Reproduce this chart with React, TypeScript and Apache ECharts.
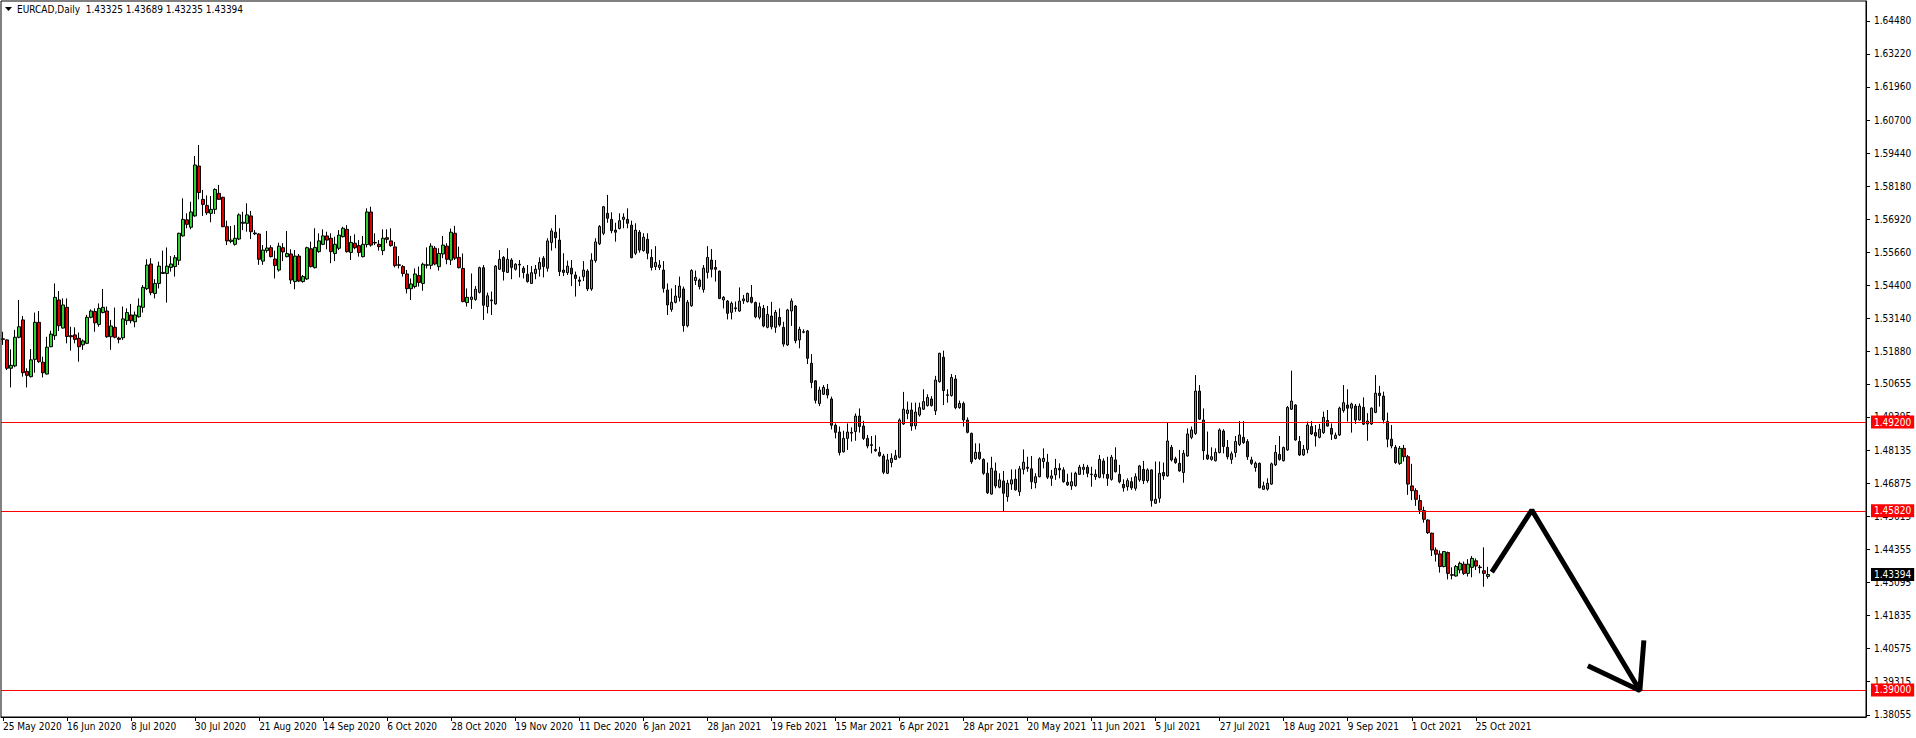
import React, { useEffect, useRef } from "react";
import * as echarts from "echarts";

// ---- Data (EURCAD, Daily) ----
const symbolTitle = "EURCAD,Daily";
const startDate = "2020-05-25";
const holidays = ["2020-12-25", "2021-01-01"];
const totalSlots = 466; // bars + empty chart-shift area on the right

const opens = [
  1.5237,1.5233,1.5125,1.5134,1.5243,1.5309,1.5113,1.5093,1.5159,1.5300,
  1.5148,1.5103,1.5207,1.5249,1.5385,1.5278,1.5357,1.5249,1.5252,1.5239,
  1.5214,1.5220,1.5319,1.5341,1.5292,1.5337,1.5343,1.5245,1.5281,1.5240,
  1.5241,1.5306,1.5328,1.5302,1.5321,1.5357,1.5428,1.5522,1.5410,1.5448,
  1.5486,1.5486,1.5509,1.5512,1.5536,1.5629,1.5690,1.5662,1.5705,1.5895,
  1.5768,1.5745,1.5715,1.5730,1.5791,1.5776,1.5664,1.5608,1.5597,1.5617,
  1.5677,1.5677,1.5705,1.5640,1.5636,1.5533,1.5573,1.5584,1.5541,1.5499,
  1.5584,1.5550,1.5560,1.5455,1.5552,1.5455,1.5465,1.5580,1.5508,1.5569,
  1.5597,1.5629,1.5620,1.5562,1.5582,1.5626,1.5654,1.5566,1.5601,1.5592,
  1.5550,1.5596,1.5720,1.5604,1.5597,1.5573,1.5622,1.5610,1.5587,1.5519,
  1.5512,1.5484,1.5428,1.5436,1.5478,1.5448,1.5519,1.5517,1.5582,1.5512,
  1.5560,1.5590,1.5537,1.5639,1.5547,1.5505,1.5375,1.5387,1.5387,1.5414,
  1.5508,1.5360,1.5385,1.5370,1.5502,1.5547,1.5490,1.5537,1.5502,1.5521,
  1.5506,1.5483,1.5448,1.5486,1.5502,1.5544,1.5506,1.5604,1.5643,1.5613,
  1.5499,1.5489,1.5506,1.5480,1.5461,1.5474,1.5495,1.5427,1.5535,1.5599,
  1.5639,1.5715,1.5692,1.5651,1.5657,1.5692,1.5692,1.5670,1.5563,1.5643,
  1.5573,1.5616,1.5547,1.5512,1.5509,1.5499,1.5423,1.5349,1.5376,1.5395,
  1.5427,1.5287,1.5363,1.5459,1.5461,1.5425,1.5490,1.5537,1.5509,1.5495,
  1.5385,1.5381,1.5338,1.5355,1.5343,1.5382,1.5379,1.5395,1.5375,1.5319,
  1.5353,1.5281,1.5324,1.5281,1.5319,1.5281,1.5214,1.5343,1.5362,1.5233,
  1.5264,1.5267,1.5144,1.5077,1.4991,1.5026,1.5045,1.5008,1.4908,1.4882,
  1.4807,1.4858,1.4881,1.4884,1.4943,1.4905,1.4858,1.4834,1.4816,1.4805,
  1.4791,1.4725,1.4766,1.4778,1.4786,1.4913,1.4953,1.4966,1.4906,1.4947,
  1.4969,1.4983,1.5008,1.4963,1.5074,1.5167,1.5024,1.5021,1.5084,1.4975,
  1.4991,1.4928,1.4877,1.4781,1.4805,1.4778,1.4725,1.4646,1.4734,1.4672,
  1.4696,1.4636,1.4684,1.4703,1.4655,1.4740,1.4748,1.4742,1.4689,1.4712,
  1.4770,1.4767,1.4706,1.4719,1.4744,1.4738,1.4691,1.4677,1.4678,1.4721,
  1.4740,1.4748,1.4722,1.4712,1.4710,1.4772,1.4721,1.4702,1.4776,1.4721,
  1.4683,1.4674,1.4693,1.4668,1.4700,1.4740,1.4697,1.4738,1.4611,1.4630,
  1.4728,1.4715,1.4824,1.4780,1.4763,1.4728,1.4791,1.4862,1.4877,1.5038,
  1.4928,1.4795,1.4778,1.4773,1.4804,1.4886,1.4824,1.4778,1.4804,1.4835,
  1.4862,1.4846,1.4776,1.4747,1.4763,1.4664,1.4665,1.4684,1.4757,1.4797,
  1.4773,1.4814,1.4969,1.4985,1.4846,1.4795,1.4816,1.4903,1.4880,1.4862,
  1.4880,1.4926,1.4896,1.4858,1.4871,1.4964,1.4985,1.4973,1.4981,1.4928,
  1.4976,1.4913,1.4913,1.4957,1.5030,1.5019,1.4922,1.4855,1.4824,1.4763,
  1.4820,1.4788,1.4677,1.4659,1.4621,1.4583,1.4547,1.4497,1.4433,1.4418,
  1.4370,1.4423,1.4339,1.4334,1.4357,1.4379,1.4344,1.4367,1.4392,1.4368,
  1.4354,1.43325
];

const highs = [
  1.5264,1.5235,1.5197,1.5271,1.5385,1.5324,1.5125,1.5198,1.5337,1.5343,
  1.5169,1.5245,1.5268,1.5448,1.5419,1.5391,1.5391,1.5283,1.5281,1.5261,
  1.5235,1.5328,1.5349,1.5353,1.5372,1.5427,1.5360,1.5309,1.5356,1.5245,
  1.5360,1.5353,1.5370,1.5341,1.5391,1.5442,1.5540,1.5544,1.5464,1.5531,
  1.5573,1.5585,1.5552,1.5556,1.5641,1.5772,1.5715,1.5759,1.5933,1.5975,
  1.5804,1.5783,1.5781,1.5810,1.5823,1.5778,1.5687,1.5667,1.5670,1.5715,
  1.5721,1.5753,1.5724,1.5651,1.5639,1.5594,1.5648,1.5594,1.5573,1.5603,
  1.5601,1.5648,1.5578,1.5575,1.5560,1.5480,1.5588,1.5607,1.5658,1.5639,
  1.5654,1.5645,1.5639,1.5626,1.5651,1.5664,1.5670,1.5629,1.5635,1.5613,
  1.5629,1.5734,1.5740,1.5639,1.5613,1.5654,1.5654,1.5658,1.5606,1.5552,
  1.5518,1.5499,1.5467,1.5505,1.5512,1.5527,1.5585,1.5601,1.5590,1.5582,
  1.5629,1.5601,1.5657,1.5667,1.5588,1.5562,1.5429,1.5486,1.5438,1.5512,
  1.5518,1.5413,1.5417,1.5518,1.5575,1.5552,1.5582,1.5544,1.5525,1.5537,
  1.5514,1.5518,1.5514,1.5518,1.5547,1.5552,1.5620,1.5658,1.5709,1.5658,
  1.5563,1.5535,1.5537,1.5493,1.5474,1.5533,1.5502,1.5563,1.5620,1.5670,
  1.5743,1.5785,1.5719,1.5679,1.5715,1.5715,1.5734,1.5687,1.5677,1.5651,
  1.5639,1.5639,1.5578,1.5590,1.5537,1.5533,1.5448,1.5429,1.5442,1.5474,
  1.5436,1.5385,1.5502,1.5497,1.5467,1.5518,1.5590,1.5579,1.5537,1.5497,
  1.5400,1.5385,1.5379,1.5379,1.5433,1.5404,1.5413,1.5442,1.5379,1.5375,
  1.5366,1.5362,1.5378,1.5347,1.5353,1.5302,1.5351,1.5391,1.5366,1.5283,
  1.5273,1.5271,1.5179,1.5080,1.5055,1.5061,1.5065,1.5017,1.4915,1.4903,
  1.4887,1.4915,1.4900,1.4953,1.4972,1.4925,1.4871,1.4867,1.4870,1.4826,
  1.4799,1.4799,1.4801,1.4814,1.4934,1.5035,1.4998,1.4994,1.4994,1.4994,
  1.5045,1.5026,1.5019,1.5096,1.5184,1.5192,1.5045,1.5103,1.5099,1.5002,
  1.4998,1.4938,1.4880,1.4839,1.4839,1.4782,1.4766,1.4788,1.4766,1.4725,
  1.4734,1.4700,1.4740,1.4740,1.4753,1.4816,1.4788,1.4791,1.4725,1.4786,
  1.4820,1.4799,1.4738,1.4780,1.4763,1.4748,1.4723,1.4728,1.4731,1.4757,
  1.4761,1.4757,1.4750,1.4740,1.4795,1.4782,1.4788,1.4795,1.4824,1.4757,
  1.4702,1.4706,1.4710,1.4725,1.4757,1.4772,1.4744,1.4740,1.4770,1.4770,
  1.4766,1.4919,1.4833,1.4788,1.4814,1.4814,1.4896,1.4903,1.5099,1.5061,
  1.4972,1.4884,1.4824,1.4820,1.4896,1.4893,1.4852,1.4808,1.4867,1.4924,
  1.4924,1.4855,1.4788,1.4770,1.4766,1.4693,1.4706,1.4766,1.4833,1.4867,
  1.4827,1.4981,1.5116,1.4988,1.4867,1.4833,1.4922,1.4924,1.4909,1.4913,
  1.4960,1.4966,1.4915,1.4880,1.4979,1.5061,1.5045,1.4994,1.4989,1.4991,
  1.5014,1.4954,1.4976,1.5099,1.5058,1.5036,1.4956,1.4909,1.4833,1.4829,
  1.4833,1.4795,1.4761,1.4668,1.4643,1.4598,1.4550,1.4499,1.4443,1.4431,
  1.4429,1.4427,1.4367,1.4376,1.4389,1.4389,1.4398,1.4410,1.4401,1.4376,
  1.4443,1.43689
];

const lows = [
  1.5214,1.5118,1.5052,1.5129,1.5239,1.5093,1.5052,1.5090,1.5108,1.5146,
  1.5090,1.5101,1.5205,1.5233,1.5267,1.5276,1.5220,1.5192,1.5220,1.5150,
  1.5195,1.5217,1.5315,1.5264,1.5283,1.5334,1.5241,1.5195,1.5239,1.5220,
  1.5233,1.5290,1.5296,1.5281,1.5318,1.5337,1.5423,1.5403,1.5391,1.5429,
  1.5484,1.5375,1.5493,1.5474,1.5518,1.5626,1.5658,1.5654,1.5702,1.5768,
  1.5705,1.5709,1.5681,1.5712,1.5766,1.5662,1.5594,1.5601,1.5592,1.5613,
  1.5651,1.5645,1.5617,1.5632,1.5519,1.5519,1.5565,1.5547,1.5467,1.5493,
  1.5533,1.5547,1.5446,1.5426,1.5453,1.5451,1.5461,1.5509,1.5505,1.5565,
  1.5594,1.5578,1.5525,1.5533,1.5575,1.5623,1.5565,1.5537,1.5578,1.5550,
  1.5547,1.5585,1.5588,1.5594,1.5573,1.5556,1.5601,1.5588,1.5509,1.5505,
  1.5474,1.5410,1.5385,1.5429,1.5436,1.5420,1.5505,1.5502,1.5517,1.5497,
  1.5544,1.5521,1.5518,1.5537,1.5505,1.5376,1.5360,1.5351,1.5382,1.5410,
  1.5309,1.5334,1.5328,1.5367,1.5499,1.5459,1.5489,1.5464,1.5497,1.5471,
  1.5467,1.5451,1.5446,1.5464,1.5474,1.5471,1.5493,1.5573,1.5582,1.5476,
  1.5476,1.5480,1.5438,1.5398,1.5438,1.5457,1.5419,1.5420,1.5527,1.5594,
  1.5632,1.5679,1.5639,1.5607,1.5654,1.5658,1.5658,1.5544,1.5556,1.5565,
  1.5569,1.5540,1.5497,1.5499,1.5499,1.5413,1.5328,1.5340,1.5372,1.5379,
  1.5264,1.5281,1.5359,1.5442,1.5425,1.5413,1.5467,1.5471,1.5455,1.5388,
  1.5353,1.5311,1.5311,1.5340,1.5340,1.5370,1.5375,1.5372,1.5315,1.5311,
  1.5281,1.5277,1.5273,1.5260,1.5283,1.5207,1.5210,1.5286,1.5220,1.5201,
  1.5258,1.5141,1.5049,1.4991,1.4981,1.5023,1.5010,1.4892,1.4858,1.4793,
  1.4804,1.4814,1.4846,1.4849,1.4880,1.4852,1.4820,1.4801,1.4807,1.4788,
  1.4722,1.4722,1.4748,1.4776,1.4782,1.4909,1.4931,1.4887,1.4892,1.4941,
  1.4966,1.4979,1.4979,1.4947,1.5070,1.4985,1.4994,1.5017,1.4969,1.4971,
  1.4903,1.4877,1.4761,1.4776,1.4776,1.4719,1.4646,1.4644,1.4668,1.4668,
  1.4579,1.4617,1.4662,1.4659,1.4639,1.4721,1.4731,1.4665,1.4668,1.4710,
  1.4744,1.4703,1.4677,1.4700,1.4706,1.4689,1.4677,1.4662,1.4674,1.4719,
  1.4719,1.4710,1.4674,1.4700,1.4706,1.4706,1.4677,1.4697,1.4728,1.4687,
  1.4655,1.4659,1.4662,1.4659,1.4693,1.4684,1.4689,1.4598,1.4608,1.4613,
  1.4700,1.4712,1.4770,1.4761,1.4731,1.4689,1.4788,1.4855,1.4871,1.4928,
  1.4776,1.4776,1.4773,1.4770,1.4801,1.4801,1.4778,1.4761,1.4786,1.4829,
  1.4837,1.4776,1.4757,1.4731,1.4668,1.4662,1.4659,1.4681,1.4753,1.4773,
  1.4770,1.4811,1.4966,1.4849,1.4791,1.4791,1.4801,1.4871,1.4827,1.4858,
  1.4875,1.4903,1.4852,1.4855,1.4867,1.4956,1.4922,1.4880,1.4913,1.4926,
  1.4909,1.4849,1.4909,1.4954,1.4979,1.4915,1.4824,1.4820,1.4761,1.4757,
  1.4770,1.4643,1.4623,1.4601,1.4570,1.4537,1.4494,1.4410,1.4389,1.4347,
  1.4367,1.4321,1.4321,1.4332,1.4344,1.4338,1.4332,1.4329,1.4357,1.4344,
  1.4293,1.43235
];

const closes = [
  1.5235,1.5125,1.5136,1.5243,1.5283,1.5108,1.5098,1.5157,1.5300,1.5150,
  1.5108,1.5205,1.5255,1.5395,1.5287,1.5366,1.5246,1.5245,1.5235,1.5207,
  1.5229,1.5319,1.5343,1.5298,1.5353,1.5357,1.5245,1.5286,1.5243,1.5235,
  1.5313,1.5337,1.5306,1.5328,1.5362,1.5433,1.5518,1.5413,1.5448,1.5514,
  1.5490,1.5514,1.5522,1.5546,1.5639,1.5692,1.5673,1.5720,1.5899,1.5794,
  1.5749,1.5717,1.5730,1.5806,1.5768,1.5664,1.5610,1.5613,1.5620,1.5709,
  1.5681,1.5709,1.5645,1.5637,1.5540,1.5575,1.5583,1.5550,1.5516,1.5590,
  1.5568,1.5562,1.5461,1.5552,1.5457,1.5474,1.5584,1.5512,1.5585,1.5610,
  1.5629,1.5613,1.5569,1.5597,1.5632,1.5658,1.5569,1.5604,1.5584,1.5566,
  1.5597,1.5720,1.5594,1.5602,1.5588,1.5620,1.5616,1.5592,1.5516,1.5517,
  1.5486,1.5428,1.5446,1.5484,1.5452,1.5521,1.5517,1.5590,1.5522,1.5562,
  1.5594,1.5540,1.5643,1.5544,1.5508,1.5379,1.5395,1.5396,1.5426,1.5508,
  1.5365,1.5401,1.5382,1.5514,1.5540,1.5493,1.5540,1.5509,1.5521,1.5518,
  1.5489,1.5455,1.5489,1.5502,1.5528,1.5512,1.5610,1.5648,1.5622,1.5493,
  1.5490,1.5514,1.5484,1.5467,1.5456,1.5499,1.5427,1.5537,1.5606,1.5665,
  1.5740,1.5696,1.5649,1.5643,1.5687,1.5700,1.5677,1.5546,1.5651,1.5575,
  1.5624,1.5563,1.5509,1.5528,1.5518,1.5429,1.5366,1.5376,1.5400,1.5438,
  1.5287,1.5376,1.5497,1.5471,1.5436,1.5506,1.5547,1.5502,1.5502,1.5391,
  1.5395,1.5334,1.5372,1.5352,1.5381,1.5389,1.5410,1.5376,1.5321,1.5359,
  1.5286,1.5330,1.5283,1.5338,1.5290,1.5217,1.5347,1.5381,1.5230,1.5273,
  1.5262,1.5163,1.5071,1.5003,1.5042,1.5052,1.5023,1.4908,1.4881,1.4804,
  1.4858,1.4882,1.4878,1.4943,1.4903,1.4858,1.4829,1.4831,1.4811,1.4792,
  1.4729,1.4776,1.4782,1.4792,1.4928,1.4969,1.4966,1.4905,1.4958,1.4975,
  1.4998,1.5014,1.4983,1.5080,1.5182,1.5040,1.5022,1.5090,1.4975,1.4991,
  1.4928,1.4881,1.4769,1.4805,1.4781,1.4725,1.4651,1.4744,1.4677,1.4700,
  1.4649,1.4687,1.4700,1.4662,1.4742,1.4767,1.4744,1.4693,1.4712,1.4780,
  1.4782,1.4710,1.4715,1.4744,1.4738,1.4693,1.4681,1.4693,1.4725,1.4748,
  1.4748,1.4725,1.4720,1.4721,1.4778,1.4723,1.4706,1.4786,1.4731,1.4693,
  1.4670,1.4697,1.4670,1.4712,1.4753,1.4697,1.4738,1.4621,1.4626,1.4725,
  1.4715,1.4848,1.4776,1.4766,1.4734,1.4801,1.4875,1.4890,1.5038,1.4931,
  1.4811,1.4780,1.4788,1.4805,1.4890,1.4827,1.4788,1.4799,1.4846,1.4871,
  1.4842,1.4788,1.4763,1.4763,1.4670,1.4677,1.4687,1.4761,1.4805,1.4778,
  1.4823,1.4976,1.5000,1.4852,1.4795,1.4816,1.4909,1.4875,1.4867,1.4893,
  1.4938,1.4905,1.4874,1.4870,1.4973,1.4994,1.4973,1.4989,1.4928,1.4981,
  1.4912,1.4924,1.4973,1.5030,1.5021,1.4928,1.4855,1.4829,1.4766,1.4820,
  1.4788,1.4684,1.4659,1.4626,1.4585,1.4550,1.4499,1.4433,1.4417,1.4370,
  1.4427,1.4344,1.4337,1.4370,1.4382,1.4344,1.4379,1.4401,1.4372,1.4366,
  1.4344,1.43394
];

const priceTicks = [
  1.6448, 1.6322, 1.6196, 1.607, 1.5944, 1.5818, 1.5692, 1.5566, 1.544, 1.5314, 1.5188,
  1.50655, 1.49395, 1.48135, 1.46875, 1.45615, 1.44355, 1.43095, 1.41835, 1.40575, 1.39315, 1.38055
];
const levelLines = [1.492, 1.4582, 1.39];
const lastPrice = 1.43394;
const arrowPath = [[372, 1.4349], [382, 1.4585], [409, 1.3898]];
const arrowHead = [[396, 1.3992], [409, 1.3898], [410, 1.4089]];
const yMin = 1.37971;
const yMax = 1.65234;
const labelEvery = 16;

const MONTHS = ["Jan", "Feb", "Mar", "Apr", "May", "Jun", "Jul", "Aug", "Sep", "Oct", "Nov", "Dec"];

function buildDates(): string[] {
  const out: string[] = [];
  const d = new Date(startDate + "T00:00:00Z");
  while (out.length < totalSlots) {
    const wd = d.getUTCDay();
    const iso = d.toISOString().slice(0, 10);
    if (wd !== 0 && wd !== 6 && holidays.indexOf(iso) < 0) {
      out.push(`${d.getUTCDate()} ${MONTHS[d.getUTCMonth()]} ${d.getUTCFullYear()}`);
    }
    d.setUTCDate(d.getUTCDate() + 1);
  }
  return out;
}

const FONT = '"DejaVu Sans Condensed", "Liberation Sans", sans-serif';

export default function App() {
  const ref = useRef<HTMLDivElement>(null);

  useEffect(() => {
    if (!ref.current) return;
    const chart = echarts.init(ref.current, undefined, { renderer: "svg" });
    const dates = buildDates();
    const nBars = closes.length;
    const candles = closes.map((c, i) => [opens[i], c, lows[i], highs[i]]);
    const showIdx = (idx: number) => idx % labelEvery === 0 && idx < nBars;

    const markData: any[] = levelLines.map((v) => ({
      yAxis: v,
      label: { formatter: v.toFixed(5) },
    }));
    markData.push({
      yAxis: lastPrice,
      lineStyle: { color: "rgba(0,0,0,0)", width: 0 },
      label: { formatter: lastPrice.toFixed(5), backgroundColor: "#000000", color: "#ffffff" },
    });

    chart.setOption({
      animation: false,
      backgroundColor: "#ffffff",
      textStyle: { fontFamily: FONT },
      graphic: [
        {
          type: "polygon",
          shape: { points: [[5, 7], [12, 7], [8.5, 11]] },
          style: { fill: "#000" },
          silent: true,
        },
        {
          type: "text",
          left: 17,
          top: 4,
          silent: true,
          style: {
            text: `${symbolTitle}  ${opens[nBars - 1].toFixed(5)} ${highs[nBars - 1].toFixed(5)} ${lows[nBars - 1].toFixed(5)} ${closes[nBars - 1].toFixed(5)}`,
            fill: "#000",
            font: `10px ${FONT}`,
          },
        },
      ],
      grid: {
        left: 1,
        top: 1,
        right: 50,
        bottom: 21,
        show: true,
        borderColor: "#000",
        borderWidth: 1,
        backgroundColor: "transparent",
      },
      xAxis: {
        type: "category",
        data: dates,
        boundaryGap: true,
        axisLine: { show: true, lineStyle: { color: "#000", width: 1 } },
        axisTick: {
          show: true,
          alignWithLabel: true,
          interval: (idx: number) => showIdx(idx),
          length: 4,
          lineStyle: { color: "#000" },
        },
        axisLabel: {
          interval: (idx: number) => showIdx(idx),
          align: "left",
          color: "#000",
          fontSize: 10,
          fontFamily: FONT,
          margin: 4,
        },
        splitLine: { show: false },
      },
      yAxis: {
        type: "value",
        position: "right",
        min: yMin,
        max: yMax,
        axisLine: { show: true, lineStyle: { color: "#000", width: 1 } },
        axisTick: { show: true, length: 4, customValues: priceTicks, lineStyle: { color: "#000" } },
        axisLabel: {
          customValues: priceTicks,
          formatter: (v: number) => v.toFixed(5),
          color: "#000",
          fontSize: 10,
          fontFamily: FONT,
          margin: 8,
        },
        splitLine: { show: false },
      },
      series: [
        {
          type: "candlestick",
          data: candles,
          barWidth: 3,
          itemStyle: {
            color: "#32CD32",
            color0: "#E00000",
            borderColor: "#000000",
            borderColor0: "#000000",
            borderWidth: 1,
          },
          markLine: {
            silent: true,
            symbol: ["none", "none"],
            precision: 5,
            animation: false,
            lineStyle: { color: "#FF0000", width: 1, type: "solid" },
            label: {
              show: true,
              position: "end",
              distance: 5,
              color: "#ffffff",
              backgroundColor: "#FF0000",
              padding: [2, 3, 1, 3],
              fontSize: 10,
              fontFamily: FONT,
            },
            data: markData,
          },
        },
        {
          type: "line",
          data: arrowPath,
          symbol: "none",
          silent: true,
          lineStyle: { color: "#000", width: 5 },
          z: 5,
        },
        {
          type: "line",
          data: arrowHead,
          symbol: "none",
          silent: true,
          lineStyle: { color: "#000", width: 5 },
          z: 5,
        },
      ],
    });

    return () => chart.dispose();
  }, []);

  return (
    <div
      ref={ref}
      style={{ position: "absolute", left: 0, top: 0, width: 1916, height: 738, background: "#fff" }}
    />
  );
}
